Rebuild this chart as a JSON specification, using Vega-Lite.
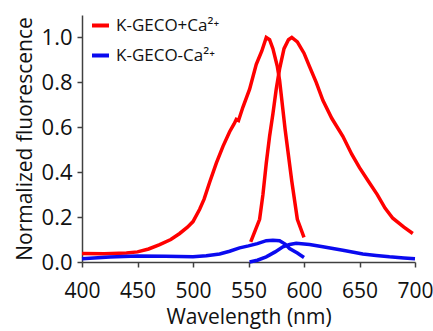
{
  "$schema": "https://vega.github.io/schema/vega-lite/v6.json",
  "width": 333,
  "height": 247,
  "autosize": {"type": "none"},
  "padding": {"left": 82, "top": 15, "right": 18, "bottom": 69},
  "background": "white",
  "config": {
    "view": {"stroke": null},
    "font": "Open Sans"
  },
  "data": {
    "values": [
      {"nm": 400, "v": 0.038, "cond": "K-GECO+Ca²⁺", "curve": "ex"},
      {"nm": 420, "v": 0.037, "cond": "K-GECO+Ca²⁺", "curve": "ex"},
      {"nm": 440, "v": 0.040, "cond": "K-GECO+Ca²⁺", "curve": "ex"},
      {"nm": 450, "v": 0.045, "cond": "K-GECO+Ca²⁺", "curve": "ex"},
      {"nm": 460, "v": 0.058, "cond": "K-GECO+Ca²⁺", "curve": "ex"},
      {"nm": 470, "v": 0.077, "cond": "K-GECO+Ca²⁺", "curve": "ex"},
      {"nm": 480, "v": 0.100, "cond": "K-GECO+Ca²⁺", "curve": "ex"},
      {"nm": 488, "v": 0.127, "cond": "K-GECO+Ca²⁺", "curve": "ex"},
      {"nm": 495, "v": 0.155, "cond": "K-GECO+Ca²⁺", "curve": "ex"},
      {"nm": 500, "v": 0.180, "cond": "K-GECO+Ca²⁺", "curve": "ex"},
      {"nm": 506, "v": 0.235, "cond": "K-GECO+Ca²⁺", "curve": "ex"},
      {"nm": 510, "v": 0.280, "cond": "K-GECO+Ca²⁺", "curve": "ex"},
      {"nm": 515, "v": 0.355, "cond": "K-GECO+Ca²⁺", "curve": "ex"},
      {"nm": 521, "v": 0.440, "cond": "K-GECO+Ca²⁺", "curve": "ex"},
      {"nm": 527, "v": 0.515, "cond": "K-GECO+Ca²⁺", "curve": "ex"},
      {"nm": 533, "v": 0.580, "cond": "K-GECO+Ca²⁺", "curve": "ex"},
      {"nm": 537, "v": 0.615, "cond": "K-GECO+Ca²⁺", "curve": "ex"},
      {"nm": 539, "v": 0.635, "cond": "K-GECO+Ca²⁺", "curve": "ex"},
      {"nm": 541, "v": 0.630, "cond": "K-GECO+Ca²⁺", "curve": "ex"},
      {"nm": 545, "v": 0.690, "cond": "K-GECO+Ca²⁺", "curve": "ex"},
      {"nm": 551, "v": 0.770, "cond": "K-GECO+Ca²⁺", "curve": "ex"},
      {"nm": 557, "v": 0.880, "cond": "K-GECO+Ca²⁺", "curve": "ex"},
      {"nm": 562, "v": 0.940, "cond": "K-GECO+Ca²⁺", "curve": "ex"},
      {"nm": 566, "v": 1.000, "cond": "K-GECO+Ca²⁺", "curve": "ex"},
      {"nm": 569, "v": 0.990, "cond": "K-GECO+Ca²⁺", "curve": "ex"},
      {"nm": 572, "v": 0.950, "cond": "K-GECO+Ca²⁺", "curve": "ex"},
      {"nm": 576, "v": 0.870, "cond": "K-GECO+Ca²⁺", "curve": "ex"},
      {"nm": 578, "v": 0.810, "cond": "K-GECO+Ca²⁺", "curve": "ex"},
      {"nm": 583, "v": 0.590, "cond": "K-GECO+Ca²⁺", "curve": "ex"},
      {"nm": 589, "v": 0.360, "cond": "K-GECO+Ca²⁺", "curve": "ex"},
      {"nm": 594, "v": 0.190, "cond": "K-GECO+Ca²⁺", "curve": "ex"},
      {"nm": 600, "v": 0.110, "cond": "K-GECO+Ca²⁺", "curve": "ex"},
      {"nm": 552, "v": 0.090, "cond": "K-GECO+Ca²⁺", "curve": "em"},
      {"nm": 556, "v": 0.140, "cond": "K-GECO+Ca²⁺", "curve": "em"},
      {"nm": 560, "v": 0.190, "cond": "K-GECO+Ca²⁺", "curve": "em"},
      {"nm": 563, "v": 0.300, "cond": "K-GECO+Ca²⁺", "curve": "em"},
      {"nm": 566, "v": 0.440, "cond": "K-GECO+Ca²⁺", "curve": "em"},
      {"nm": 569, "v": 0.560, "cond": "K-GECO+Ca²⁺", "curve": "em"},
      {"nm": 572, "v": 0.660, "cond": "K-GECO+Ca²⁺", "curve": "em"},
      {"nm": 575, "v": 0.770, "cond": "K-GECO+Ca²⁺", "curve": "em"},
      {"nm": 578, "v": 0.860, "cond": "K-GECO+Ca²⁺", "curve": "em"},
      {"nm": 582, "v": 0.950, "cond": "K-GECO+Ca²⁺", "curve": "em"},
      {"nm": 586, "v": 0.990, "cond": "K-GECO+Ca²⁺", "curve": "em"},
      {"nm": 589, "v": 1.000, "cond": "K-GECO+Ca²⁺", "curve": "em"},
      {"nm": 594, "v": 0.980, "cond": "K-GECO+Ca²⁺", "curve": "em"},
      {"nm": 600, "v": 0.930, "cond": "K-GECO+Ca²⁺", "curve": "em"},
      {"nm": 605, "v": 0.870, "cond": "K-GECO+Ca²⁺", "curve": "em"},
      {"nm": 611, "v": 0.800, "cond": "K-GECO+Ca²⁺", "curve": "em"},
      {"nm": 617, "v": 0.720, "cond": "K-GECO+Ca²⁺", "curve": "em"},
      {"nm": 625, "v": 0.640, "cond": "K-GECO+Ca²⁺", "curve": "em"},
      {"nm": 635, "v": 0.560, "cond": "K-GECO+Ca²⁺", "curve": "em"},
      {"nm": 643, "v": 0.480, "cond": "K-GECO+Ca²⁺", "curve": "em"},
      {"nm": 650, "v": 0.420, "cond": "K-GECO+Ca²⁺", "curve": "em"},
      {"nm": 658, "v": 0.360, "cond": "K-GECO+Ca²⁺", "curve": "em"},
      {"nm": 666, "v": 0.300, "cond": "K-GECO+Ca²⁺", "curve": "em"},
      {"nm": 673, "v": 0.240, "cond": "K-GECO+Ca²⁺", "curve": "em"},
      {"nm": 680, "v": 0.195, "cond": "K-GECO+Ca²⁺", "curve": "em"},
      {"nm": 690, "v": 0.155, "cond": "K-GECO+Ca²⁺", "curve": "em"},
      {"nm": 698, "v": 0.127, "cond": "K-GECO+Ca²⁺", "curve": "em"},
      {"nm": 400, "v": 0.015, "cond": "K-GECO-Ca²⁺", "curve": "ex"},
      {"nm": 425, "v": 0.022, "cond": "K-GECO-Ca²⁺", "curve": "ex"},
      {"nm": 450, "v": 0.027, "cond": "K-GECO-Ca²⁺", "curve": "ex"},
      {"nm": 475, "v": 0.026, "cond": "K-GECO-Ca²⁺", "curve": "ex"},
      {"nm": 500, "v": 0.023, "cond": "K-GECO-Ca²⁺", "curve": "ex"},
      {"nm": 512, "v": 0.028, "cond": "K-GECO-Ca²⁺", "curve": "ex"},
      {"nm": 524, "v": 0.036, "cond": "K-GECO-Ca²⁺", "curve": "ex"},
      {"nm": 533, "v": 0.048, "cond": "K-GECO-Ca²⁺", "curve": "ex"},
      {"nm": 542, "v": 0.063, "cond": "K-GECO-Ca²⁺", "curve": "ex"},
      {"nm": 550, "v": 0.072, "cond": "K-GECO-Ca²⁺", "curve": "ex"},
      {"nm": 558, "v": 0.082, "cond": "K-GECO-Ca²⁺", "curve": "ex"},
      {"nm": 566, "v": 0.095, "cond": "K-GECO-Ca²⁺", "curve": "ex"},
      {"nm": 572, "v": 0.097, "cond": "K-GECO-Ca²⁺", "curve": "ex"},
      {"nm": 578, "v": 0.095, "cond": "K-GECO-Ca²⁺", "curve": "ex"},
      {"nm": 583, "v": 0.080, "cond": "K-GECO-Ca²⁺", "curve": "ex"},
      {"nm": 587, "v": 0.060, "cond": "K-GECO-Ca²⁺", "curve": "ex"},
      {"nm": 594, "v": 0.040, "cond": "K-GECO-Ca²⁺", "curve": "ex"},
      {"nm": 600, "v": 0.020, "cond": "K-GECO-Ca²⁺", "curve": "ex"},
      {"nm": 551, "v": 0.000, "cond": "K-GECO-Ca²⁺", "curve": "em"},
      {"nm": 558, "v": 0.008, "cond": "K-GECO-Ca²⁺", "curve": "em"},
      {"nm": 566, "v": 0.023, "cond": "K-GECO-Ca²⁺", "curve": "em"},
      {"nm": 574, "v": 0.045, "cond": "K-GECO-Ca²⁺", "curve": "em"},
      {"nm": 581, "v": 0.068, "cond": "K-GECO-Ca²⁺", "curve": "em"},
      {"nm": 587, "v": 0.078, "cond": "K-GECO-Ca²⁺", "curve": "em"},
      {"nm": 593, "v": 0.083, "cond": "K-GECO-Ca²⁺", "curve": "em"},
      {"nm": 605, "v": 0.078, "cond": "K-GECO-Ca²⁺", "curve": "em"},
      {"nm": 617, "v": 0.068, "cond": "K-GECO-Ca²⁺", "curve": "em"},
      {"nm": 635, "v": 0.052, "cond": "K-GECO-Ca²⁺", "curve": "em"},
      {"nm": 653, "v": 0.036, "cond": "K-GECO-Ca²⁺", "curve": "em"},
      {"nm": 665, "v": 0.029, "cond": "K-GECO-Ca²⁺", "curve": "em"},
      {"nm": 677, "v": 0.023, "cond": "K-GECO-Ca²⁺", "curve": "em"},
      {"nm": 690, "v": 0.018, "cond": "K-GECO-Ca²⁺", "curve": "em"},
      {"nm": 700, "v": 0.015, "cond": "K-GECO-Ca²⁺", "curve": "em"}
    ]
  },
  "mark": {"type": "line", "strokeWidth": 3.5, "clip": false},
  "encoding": {
    "x": {
      "field": "nm", "type": "quantitative",
      "scale": {"domain": [400, 700], "nice": false, "zero": false},
      "axis": {
        "values": [400, 450, 500, 550, 600, 650, 700],
        "grid": false,
        "labelFlush": false,
        "labelOverlap": false,
        "title": "Wavelength (nm)",
        "titleFontSize": 21, "titleFontWeight": "normal", "titleColor": "#111",
        "titlePadding": 5,
        "labelFontSize": 21, "labelColor": "#111", "labelPadding": 13,
        "domainColor": "#404040", "domainWidth": 1.5,
        "tickColor": "#404040", "tickSize": 5, "tickWidth": 1.5
      }
    },
    "y": {
      "field": "v", "type": "quantitative",
      "scale": {"domain": [0, 1.1], "nice": false},
      "axis": {
        "values": [0, 0.2, 0.4, 0.6, 0.8, 1.0],
        "format": ".1f",
        "grid": false,
        "labelFlush": false,
        "labelOverlap": false,
        "title": "Normalized fluorescence",
        "titleFontSize": 21, "titleFontWeight": "normal", "titleColor": "#111",
        "titlePadding": 6,
        "labelFontSize": 22, "labelColor": "#111", "labelPadding": 5,
        "domainColor": "#404040", "domainWidth": 1.5,
        "tickColor": "#404040", "tickSize": 5, "tickWidth": 1.5
      }
    },
    "color": {
      "field": "cond", "type": "nominal",
      "scale": {"domain": ["K-GECO+Ca²⁺", "K-GECO-Ca²⁺"], "range": ["#ff0000", "#0a0aef"]},
      "legend": {
        "title": null,
        "orient": "none",
        "legendX": 8,
        "legendY": 0,
        "symbolType": "stroke",
        "symbolSize": 289,
        "symbolStrokeWidth": 4,
        "labelFontSize": 17,
        "labelColor": "#111",
        "rowPadding": 11,
        "labelOffset": 5
      }
    },
    "detail": {"field": "curve", "type": "nominal"},
    "order": {"field": "nm", "type": "quantitative"}
  }
}
